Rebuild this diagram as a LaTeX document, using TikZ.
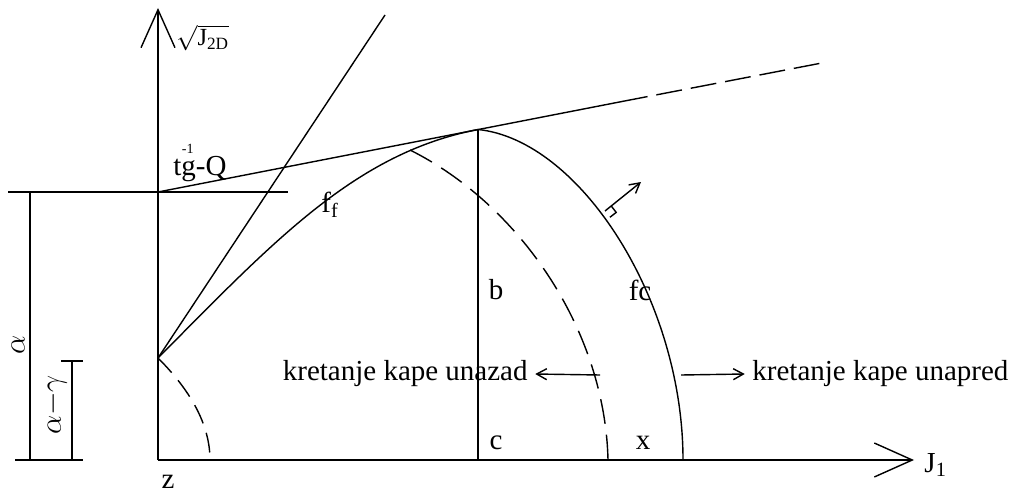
\documentclass[tikz,border=0pt]{standalone}
\usepackage{amsmath}
\usepackage{fontspec}
\setmainfont{Liberation Serif}
\usetikzlibrary{arrows.meta,calc}

\begin{document}
\begin{tikzpicture}[x=0.02cm,y=-0.02cm,line width=0.8pt,
  every node/.style={font=\fontsize{16.5}{20}\selectfont,inner sep=1pt},
  axis/.style={-{Straight Barb[length=0.76cm,width=0.68cm]}},
  move/.style={-{Straight Barb[length=0.2cm,width=0.22cm]}},
  capline/.style={dash pattern=on 0.5cm off 0.22cm}]
\useasboundingbox (0,0) rectangle (1016,493);
% axes
\coordinate (O) at (158,460);
\draw[axis] (O) -- (158,8) coordinate (ytip);
\draw[axis] (O) -- (914,460) coordinate (xtip);
\node[anchor=west,font=\fontsize{14}{16}\selectfont] (sqJ) at (174,38) {$\sqrt{\mathrm{J}_{\mathrm{2D}}}$};
\node[anchor=west] (J1) at (922,465) {J$_{\text{1}}$};
\node (z) at (168,482) {z};
% alpha and alpha-gamma
\coordinate (A) at (158,192);
\coordinate (K) at (158,358);
\draw (8,192) -- (288,192);
\draw (30,192) -- (30,460);
\draw (15,460) -- (83,460);
\draw (72,361) -- (72,460);
\draw (61,361) -- (83,361);
\node[rotate=90] (alpha) at (18,345) {$\alpha$};
\node[rotate=90] (alphagamma) at (55,405) {$\alpha{-}\gamma$};
% tangent line
\coordinate (T) at (478,129.5);
\coordinate (S) at (622,101.5);
\coordinate (E) at (827,62);
\draw (A) -- (S);
\draw[dash pattern=on 0.52cm off 0.18cm] (S) -- (E);
\node (tgQ) at (200,163) {tg\llap{\raisebox{1.6ex}{\fontsize{8}{8}\selectfont -1\,}}-Q};
% failure lines
\draw (K) -- (385,15);
\draw (K) .. controls (275,240) and (356,153) .. (T);
\node (ff) at (330,205) {f$_{\text{f}}$};
\draw[dash pattern=on 0.4cm off 0.2cm] (K) .. controls (185,385) and (210,420) .. (210,460);
% cap
\draw (T) -- (478,460);
\node (b) at (496,290) {b};
\node (c) at (496,443) {c};
\draw (T) .. controls (580,140) and (683,300) .. (683,460);
\draw[capline] (410,150) .. controls (520,205) and (605,330) .. (608,460);
\node (fc) at (640,290) {fc};
\node (x) at (643,443) {x};
% normal to cap
\coordinate (F) at (605,211);
\coordinate (N) at (641,182);
\draw (F) ++(6.3,-4.9) -- ++(4.9,6.3) -- ++(-6.3,4.9);
\draw[move] (F) -- (N);
% cap movement
\coordinate (back) at (600,375);
\coordinate (fwd) at (681,375);
\node[anchor=east] (unazad) at (530,374) {kretanje kape unazad};
\node[anchor=west] (unapred) at (750,374) {kretanje kape unapred};
\draw[move] (back) -- ([xshift=3pt]unazad.east);
\draw[move] (fwd) -- ([xshift=-3pt]unapred.west);
\end{tikzpicture}
\end{document}
